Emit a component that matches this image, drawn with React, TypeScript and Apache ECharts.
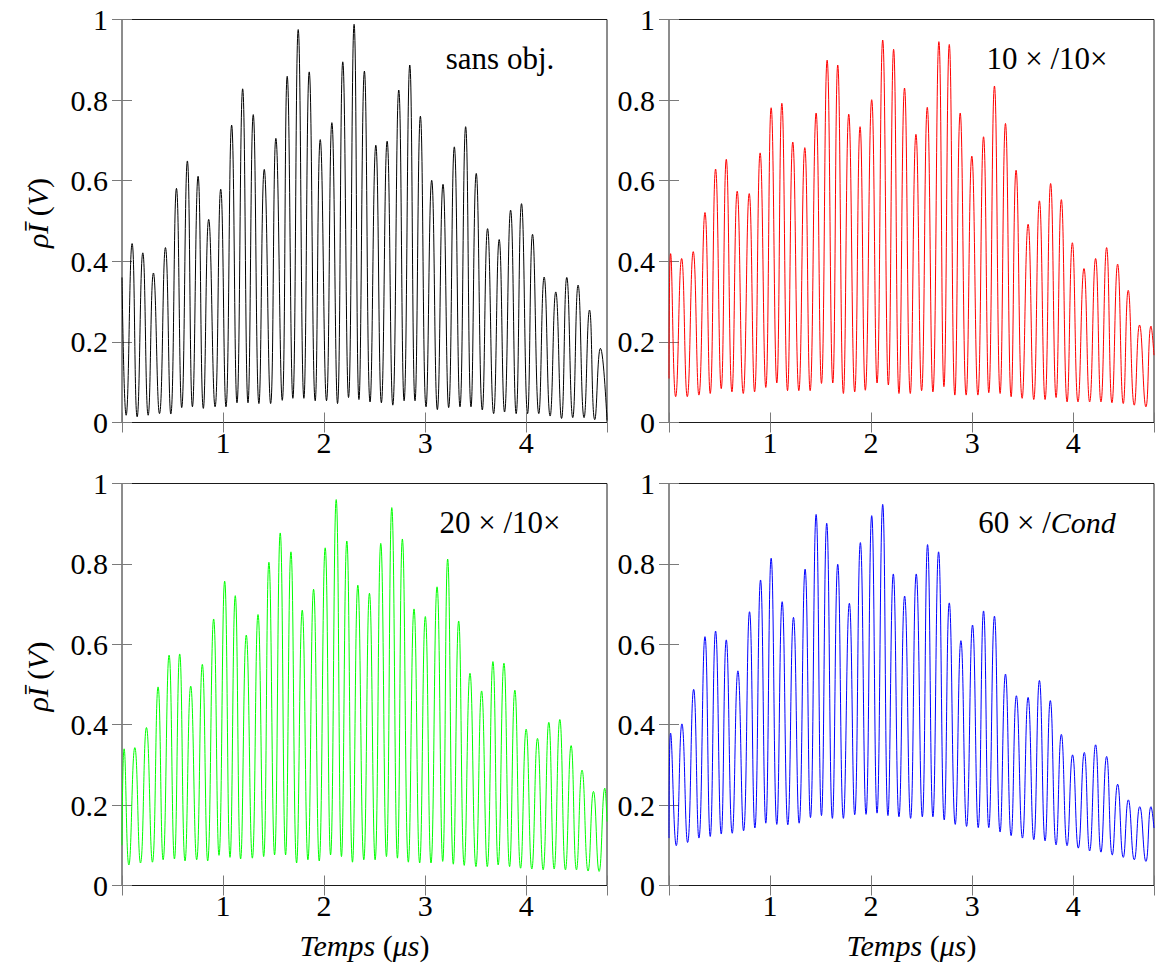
import React, { useEffect, useRef } from 'react';
import * as echarts from 'echarts';

// Extrema (time in µs, value), per panel
const blackExtrema: number[][] = [
  [0, 0.36], [0.041, 0.018], [0.1, 0.444], [0.15, 0.014], [0.206, 0.421], [0.259, 0.018], [0.311, 0.371], [0.371, 0.022],
  [0.43, 0.434], [0.483, 0.021], [0.539, 0.581], [0.591, 0.037], [0.647, 0.649], [0.697, 0.039], [0.753, 0.611], [0.805, 0.035],
  [0.858, 0.504], [0.921, 0.039], [0.977, 0.579], [1.029, 0.039], [1.085, 0.738], [1.138, 0.049], [1.194, 0.828], [1.247, 0.049],
  [1.299, 0.764], [1.355, 0.047], [1.408, 0.628], [1.471, 0.047], [1.523, 0.705], [1.586, 0.055], [1.635, 0.859], [1.691, 0.06],
  [1.744, 0.975], [1.8, 0.06], [1.853, 0.87], [1.912, 0.054], [1.962, 0.702], [2.024, 0.054], [2.077, 0.744], [2.133, 0.047],
  [2.185, 0.895], [2.242, 0.062], [2.297, 0.988], [2.345, 0.057], [2.399, 0.872], [2.455, 0.051], [2.512, 0.688], [2.567, 0.049],
  [2.624, 0.698], [2.68, 0.043], [2.739, 0.825], [2.792, 0.054], [2.848, 0.887], [2.9, 0.054], [2.953, 0.76], [3.009, 0.039],
  [3.065, 0.601], [3.121, 0.032], [3.177, 0.591], [3.233, 0.037], [3.289, 0.684], [3.345, 0.039], [3.401, 0.734], [3.454, 0.039],
  [3.506, 0.618], [3.566, 0.031], [3.618, 0.481], [3.678, 0.022], [3.733, 0.454], [3.786, 0.026], [3.846, 0.527], [3.901, 0.022],
  [3.954, 0.543], [4.014, 0.022], [4.063, 0.467], [4.125, 0.022], [4.178, 0.361], [4.237, 0.016], [4.293, 0.324], [4.35, 0.01],
  [4.402, 0.36], [4.461, 0.012], [4.514, 0.341], [4.573, 0.012], [4.627, 0.279], [4.679, 0.007], [4.735, 0.184], [4.8, 0.005],
];

const redExtrema: number[][] = [
  [0, 0.109], [0.016, 0.419], [0.066, 0.064], [0.125, 0.407], [0.181, 0.064], [0.24, 0.424], [0.296, 0.068], [0.356, 0.521],
  [0.408, 0.072], [0.461, 0.629], [0.517, 0.084], [0.567, 0.653], [0.623, 0.076], [0.675, 0.574], [0.735, 0.072], [0.794, 0.568],
  [0.847, 0.076], [0.902, 0.669], [0.958, 0.087], [1.011, 0.781], [1.067, 0.098], [1.117, 0.792], [1.173, 0.079], [1.225, 0.696],
  [1.285, 0.079], [1.344, 0.682], [1.397, 0.079], [1.456, 0.768], [1.509, 0.097], [1.565, 0.899], [1.621, 0.098], [1.67, 0.887],
  [1.726, 0.072], [1.779, 0.765], [1.838, 0.076], [1.891, 0.734], [1.943, 0.08], [2.006, 0.801], [2.059, 0.098], [2.115, 0.949],
  [2.171, 0.093], [2.223, 0.926], [2.276, 0.072], [2.331, 0.83], [2.388, 0.072], [2.444, 0.715], [2.5, 0.079], [2.556, 0.782],
  [2.612, 0.076], [2.671, 0.945], [2.721, 0.089], [2.774, 0.938], [2.829, 0.068], [2.882, 0.768], [2.941, 0.068], [2.997, 0.661],
  [3.057, 0.068], [3.113, 0.709], [3.165, 0.074], [3.221, 0.835], [3.277, 0.072], [3.33, 0.742], [3.386, 0.064], [3.435, 0.626],
  [3.495, 0.06], [3.554, 0.492], [3.61, 0.057], [3.666, 0.55], [3.722, 0.057], [3.777, 0.593], [3.831, 0.062], [3.883, 0.553],
  [3.94, 0.051], [3.992, 0.446], [4.048, 0.051], [4.107, 0.382], [4.163, 0.051], [4.222, 0.407], [4.275, 0.051], [4.331, 0.434],
  [4.384, 0.049], [4.44, 0.393], [4.496, 0.047], [4.545, 0.328], [4.605, 0.043], [4.657, 0.242], [4.72, 0.039], [4.77, 0.239],
  [4.8, 0.167],
];

const greenExtrema: number[][] = [
  [0, 0.1], [0.021, 0.34], [0.068, 0.051], [0.127, 0.343], [0.183, 0.056], [0.242, 0.393], [0.301, 0.058], [0.357, 0.494],
  [0.407, 0.064], [0.466, 0.573], [0.519, 0.066], [0.571, 0.576], [0.624, 0.061], [0.68, 0.496], [0.739, 0.064], [0.795, 0.55],
  [0.848, 0.061], [0.907, 0.663], [0.96, 0.075], [1.016, 0.757], [1.069, 0.07], [1.121, 0.721], [1.174, 0.066], [1.23, 0.623],
  [1.29, 0.068], [1.346, 0.674], [1.402, 0.072], [1.454, 0.804], [1.51, 0.076], [1.566, 0.877], [1.619, 0.076], [1.672, 0.83],
  [1.728, 0.056], [1.784, 0.685], [1.84, 0.064], [1.896, 0.737], [1.952, 0.061], [2.011, 0.84], [2.064, 0.076], [2.12, 0.96],
  [2.172, 0.072], [2.225, 0.857], [2.281, 0.058], [2.334, 0.747], [2.393, 0.064], [2.449, 0.727], [2.505, 0.064], [2.561, 0.851],
  [2.617, 0.072], [2.67, 0.94], [2.726, 0.068], [2.775, 0.862], [2.834, 0.058], [2.89, 0.688], [2.946, 0.056], [3.002, 0.669],
  [3.058, 0.056], [3.118, 0.743], [3.174, 0.06], [3.223, 0.812], [3.279, 0.053], [3.332, 0.658], [3.387, 0.05], [3.444, 0.528],
  [3.503, 0.047], [3.559, 0.484], [3.615, 0.047], [3.671, 0.557], [3.723, 0.051], [3.78, 0.553], [3.836, 0.047], [3.888, 0.486],
  [3.945, 0.043], [4.0, 0.389], [4.056, 0.041], [4.112, 0.366], [4.168, 0.039], [4.224, 0.406], [4.277, 0.041], [4.333, 0.413],
  [4.389, 0.039], [4.445, 0.348], [4.498, 0.039], [4.553, 0.287], [4.613, 0.036], [4.666, 0.234], [4.722, 0.035], [4.778, 0.242],
  [4.8, 0.159],
];

const blueExtrema: number[][] = [
  [0, 0.118], [0.016, 0.379], [0.072, 0.099], [0.128, 0.402], [0.184, 0.107], [0.244, 0.488], [0.296, 0.118], [0.356, 0.619],
  [0.408, 0.122], [0.461, 0.633], [0.517, 0.128], [0.567, 0.611], [0.626, 0.13], [0.682, 0.534], [0.738, 0.136], [0.797, 0.681],
  [0.85, 0.143], [0.906, 0.76], [0.958, 0.155], [1.011, 0.814], [1.067, 0.152], [1.12, 0.706], [1.176, 0.151], [1.232, 0.667],
  [1.288, 0.155], [1.347, 0.787], [1.4, 0.169], [1.456, 0.923], [1.509, 0.174], [1.561, 0.901], [1.617, 0.167], [1.67, 0.799],
  [1.726, 0.167], [1.785, 0.702], [1.838, 0.176], [1.894, 0.853], [1.95, 0.177], [2.006, 0.92], [2.059, 0.18], [2.115, 0.948],
  [2.167, 0.174], [2.22, 0.775], [2.276, 0.171], [2.332, 0.72], [2.391, 0.167], [2.447, 0.775], [2.507, 0.171], [2.559, 0.848],
  [2.612, 0.171], [2.668, 0.83], [2.724, 0.163], [2.774, 0.703], [2.833, 0.152], [2.889, 0.609], [2.945, 0.147], [3.004, 0.648],
  [3.06, 0.144], [3.113, 0.683], [3.165, 0.144], [3.221, 0.67], [3.277, 0.133], [3.33, 0.526], [3.386, 0.124], [3.438, 0.472],
  [3.498, 0.118], [3.554, 0.468], [3.61, 0.114], [3.666, 0.51], [3.722, 0.111], [3.774, 0.46], [3.831, 0.101], [3.883, 0.376],
  [3.94, 0.099], [3.994, 0.325], [4.051, 0.093], [4.11, 0.331], [4.163, 0.086], [4.222, 0.35], [4.275, 0.083], [4.331, 0.321],
  [4.387, 0.076], [4.44, 0.252], [4.496, 0.07], [4.546, 0.213], [4.605, 0.064], [4.659, 0.196], [4.72, 0.06], [4.77, 0.196],
  [4.8, 0.143],
];

const panelLabels = ['sans obj.', '10 × /10×', '20 × /10×', '60 × /{i|Cond}'];
const panelColors = ['#000000', '#ff0000', '#00ff00', '#0000ff'];
const yAxisTitle = '{i|ρĪ} ({i|V})';
const xAxisTitle = '{i|Temps} ({i|μs})';
const X_MIN = 0, X_MAX = 4.8, X_STEP = 1;
const Y_MIN = 0, Y_MAX = 1, Y_STEP = 0.2;

const FONT = "'Liberation Serif', 'DejaVu Serif', serif";

export default function App() {
  const ref = useRef<HTMLDivElement>(null);
  useEffect(() => {
    const chart = echarts.init(ref.current!, null, { renderer: 'svg' });
    const datasets = [blackExtrema, redExtrema, greenExtrema, blueExtrema];
    const grids = [
      { left: 122, top: 19.5, width: 485, height: 403 },
      { left: 669, top: 19.5, width: 485, height: 403 },
      { left: 122, top: 483.5, width: 485, height: 402 },
      { left: 669, top: 483.5, width: 485, height: 402 },
    ];
    const tick = { show: true, inside: true, length: 10, lineStyle: { color: '#7a7a7a', width: 1 } };
    const xAxes: any[] = [];
    const yAxes: any[] = [];
    const series: any[] = [];
    grids.forEach((g, i) => {
      xAxes.push({
        type: 'value', gridIndex: i, min: X_MIN, max: X_MAX, interval: X_STEP, position: 'bottom',
        axisLine: { show: false }, splitLine: { show: false }, axisTick: tick,
        axisLabel: {
          show: true, margin: 5, color: '#000', fontSize: 30, fontFamily: FONT,
          formatter: (v: number) => (v === 0 || Math.abs(v - Math.round(v)) > 1e-9 ? '' : String(v)),
        },
      });
      xAxes.push({
        type: 'value', gridIndex: i, min: X_MIN, max: X_MAX, interval: X_STEP, position: 'top',
        axisLine: { show: false }, splitLine: { show: false }, axisTick: tick, axisLabel: { show: false },
      });
      yAxes.push({
        type: 'value', gridIndex: i, min: Y_MIN, max: Y_MAX, interval: Y_STEP, position: 'left',
        axisLine: { show: false }, splitLine: { show: false }, axisTick: tick,
        axisLabel: {
          show: true, margin: 14, color: '#000', fontSize: 30, fontFamily: FONT,
          formatter: (v: number) => String(Math.round(v * 10) / 10),
        },
      });
      yAxes.push({
        type: 'value', gridIndex: i, min: Y_MIN, max: Y_MAX, interval: Y_STEP, position: 'right',
        axisLine: { show: false }, splitLine: { show: false }, axisTick: tick, axisLabel: { show: false },
      });
      series.push({
        type: 'line', xAxisIndex: i * 2, yAxisIndex: i * 2, data: datasets[i],
        showSymbol: false, symbol: 'none', smooth: 0.5, clip: true,
        lineStyle: { color: panelColors[i], width: 1 },
      });
    });

    const graphics: any[] = [];
    const richI = { i: { fontStyle: 'italic', fontFamily: FONT, fontSize: 30, fill: '#000' } };
    grids.forEach((g, i) => {
      graphics.push({
        type: 'text', x: g.left + 378, y: g.top + 39, silent: true,
        style: { text: panelLabels[i], fontFamily: FONT, fontSize: 31, fill: '#000', align: 'center', verticalAlign: 'middle', rich: richI },
      });
      if (i % 2 === 0) {
        graphics.push({
          type: 'text', x: 37, y: g.top + g.height / 2 - 8, rotation: Math.PI / 2, silent: true,
          style: { text: yAxisTitle, fontFamily: FONT, fontSize: 30, fill: '#000', align: 'center', verticalAlign: 'middle', rich: richI },
        });
      }
    });
    [grids[2], grids[3]].forEach((g) => {
      graphics.push({
        type: 'text', x: g.left + g.width / 2, y: 945, silent: true,
        style: { text: xAxisTitle, fontFamily: FONT, fontSize: 30, fill: '#000', align: 'center', verticalAlign: 'middle', rich: richI },
      });
    });

    chart.setOption({
      animation: false,
      backgroundColor: '#ffffff',
      grid: grids.map((g) => ({ ...g, show: true, borderColor: '#1a1a1a', borderWidth: 1, backgroundColor: 'transparent', containLabel: false })),
      xAxis: xAxes,
      yAxis: yAxes,
      series,
      graphic: graphics,
    });
    return () => chart.dispose();
  }, []);
  return <div ref={ref} style={{ position: 'absolute', left: 0, top: 0, width: 1157, height: 972 }} />;
}
